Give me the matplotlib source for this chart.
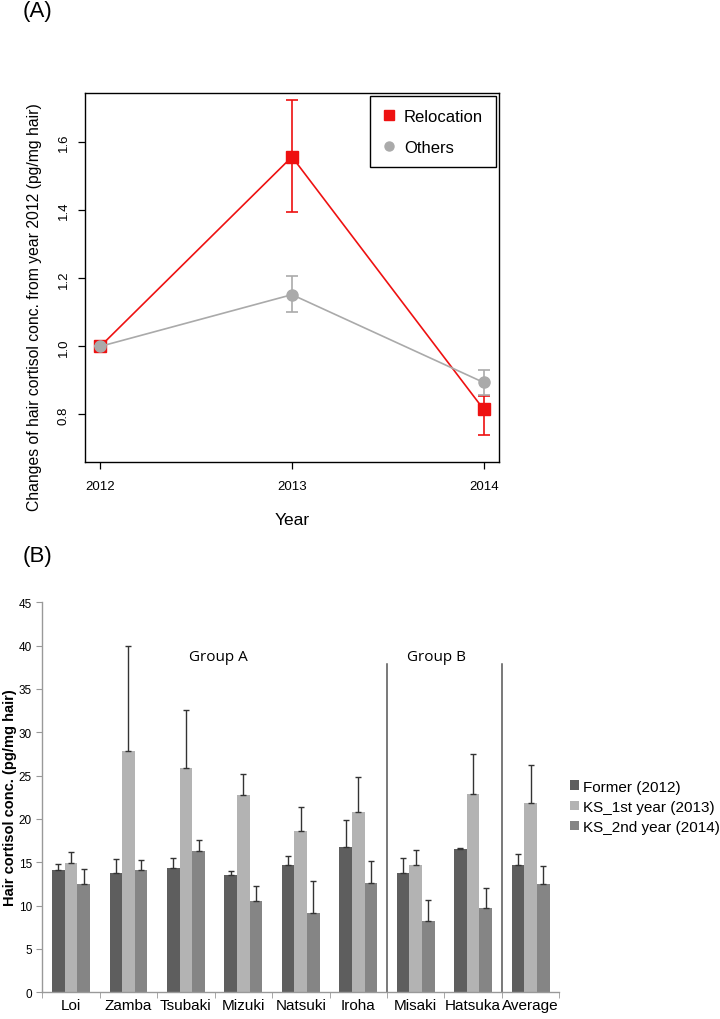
import numpy as np
import matplotlib.pyplot as plt
from matplotlib.lines import Line2D

plt.rcParams['font.family'] = ['Liberation Sans', 'DejaVu Sans']

# ---- panel A data (relative to 2012) ----
years = [2012, 2013, 2014]
reloc_mean = [1.0, 1.557, 0.815]
reloc_lo = [1.0, 1.395, 0.740]
reloc_hi = [1.0, 1.725, 0.855]
other_mean = [1.0, 1.152, 0.894]
other_lo = [1.0, 1.100, 0.857]
other_hi = [1.0, 1.208, 0.932]

# ---- panel B data (pg/mg hair) ----
names = ["Loi", "Zamba", "Tsubaki", "Mizuki", "Natsuki", "Iroha", "Misaki", "Hatsuka", "Average"]
former = [14.08, 13.77, 14.30, 13.54, 14.69, 16.77, 13.77, 16.54, 14.69]
former_err = [0.69, 1.58, 1.16, 0.46, 1.00, 3.15, 1.69, 0.06, 1.23]
ks1 = [14.88, 27.80, 25.85, 22.77, 18.65, 20.80, 14.69, 22.85, 21.80]
ks1_err = [1.27, 12.20, 6.75, 2.42, 2.77, 4.00, 1.73, 4.61, 4.46]
ks2 = [12.50, 14.15, 16.30, 10.50, 9.15, 12.65, 8.23, 9.77, 12.54]
ks2_err = [1.69, 1.12, 1.24, 1.77, 3.65, 2.47, 2.42, 2.23, 2.04]
series_labels = ["Former (2012)", "KS_1st year (2013)", "KS_2nd year (2014)"]
series_colors = ["#5e5e5e", "#b3b3b3", "#858585"]

fig = plt.figure(figsize=(7.2, 10.2), dpi=100)

# ================= (A) =================
axA = fig.add_axes([0.118, 0.546, 0.575, 0.362])
red = "#ee1111"
grey = "#aaaaaa"

r_err = [np.subtract(reloc_mean, reloc_lo), np.subtract(reloc_hi, reloc_mean)]
o_err = [np.subtract(other_mean, other_lo), np.subtract(other_hi, other_mean)]
axA.errorbar(years, reloc_mean, yerr=r_err, color=red, lw=1.2, marker="s", ms=8,
             capsize=4, capthick=1.2, elinewidth=1.2, zorder=3)
axA.errorbar(years, other_mean, yerr=o_err, color=grey, lw=1.2, marker="o", ms=8,
             capsize=4, capthick=1.2, elinewidth=1.2, zorder=4)

axA.set_xlim(2011.92, 2014.08)
axA.set_ylim(0.66, 1.745)
axA.set_xticks(years)
axA.set_xticklabels([str(y) for y in years])
axA.set_yticks([0.8, 1.0, 1.2, 1.4, 1.6])
axA.set_yticklabels(["0.8", "1.0", "1.2", "1.4", "1.6"], rotation=90, va="center")
axA.tick_params(labelsize=9.5, length=5, width=0.9, direction="out")
axA.tick_params(axis="x", pad=8)
axA.tick_params(axis="y", pad=6)
for s in axA.spines.values():
    s.set_linewidth(1.0)
axA.set_xlabel("Year", fontsize=12.5, labelpad=14)
fig.text(35 / 720, 1 - 307 / 1020, "Changes of hair cortisol conc. from year 2012 (pg/mg hair)",
         fontsize=11.3, rotation=90, ha="center", va="center")

handles = [Line2D([], [], color=red, marker="s", ls="none", ms=6.5),
           Line2D([], [], color=grey, marker="o", ls="none", ms=6.5)]
legA = axA.legend(handles, ["Relocation", "Others"], loc="upper right", bbox_to_anchor=(1.0, 1.0),
                  borderaxespad=0.2, fontsize=12, fancybox=False, framealpha=1,
                  edgecolor="black", handlelength=0.8, handletextpad=0.5,
                  borderpad=0.75, labelspacing=0.95)
legA.get_frame().set_linewidth(1.0)
fig.text(23 / 720, 0.999, "(A)", fontsize=16, va="top")

# ================= (B) =================
axB = fig.add_axes([0.0588, 0.0262, 0.718, 0.3823])
x = np.arange(len(names))
w = 0.22
bar_vals = [former, ks1, ks2]
bar_errs = [former_err, ks1_err, ks2_err]
for i, (v, e) in enumerate(zip(bar_vals, bar_errs)):
    axB.bar(x + (i - 1) * w, v, width=w, color=series_colors[i], label=series_labels[i],
            yerr=[np.zeros(len(e)), e], error_kw=dict(ecolor="#333333", elinewidth=1.0,
                                                      capsize=2.5, capthick=1.0))

axB.set_xlim(-0.5, len(names) - 0.5)
axB.set_ylim(0, 45)
axB.set_yticks(range(0, 50, 5))
axB.set_xticks(x)
axB.set_xticklabels(names, fontsize=11)
axB.set_xticks(np.arange(-0.5, len(names), 1.0), minor=True)
axB.tick_params(axis="x", which="major", length=0, pad=4)
axB.tick_params(axis="x", which="minor", length=4, color="#999999", direction="out")
axB.tick_params(axis="y", labelsize=8.5, length=4, color="#999999", direction="out")
for side in ["top", "right"]:
    axB.spines[side].set_visible(False)
for side in ["left", "bottom"]:
    axB.spines[side].set_color("#999999")
    axB.spines[side].set_linewidth(1.0)

# group separators
for xs in [5.5, 7.5]:
    axB.plot([xs, xs], [0, 37.9], color="#555555", lw=1.1)
axB.text(2.56, 38.8, "Group A", fontsize=11, family=["Open Sans", "DejaVu Sans"], ha="center", va="center")
axB.text(6.36, 38.8, "Group B", fontsize=11, family=["Open Sans", "DejaVu Sans"], ha="center", va="center")

fig.text(10 / 720, 1 - 798 / 1020, "Hair cortisol conc. (pg/mg hair)", fontsize=10.5,
         fontweight="bold", rotation=90, ha="center", va="center")

legB = fig.legend(*axB.get_legend_handles_labels(), loc="center left",
                  bbox_to_anchor=(0.772, 0.208), frameon=False, fontsize=11,
                  handlelength=0.6, handleheight=0.6, handletextpad=0.3, labelspacing=0.4)
fig.text(23 / 720, 1 - 557 / 1020, "(B)", fontsize=16, va="center")

fig.savefig("out.png", dpi=100)
